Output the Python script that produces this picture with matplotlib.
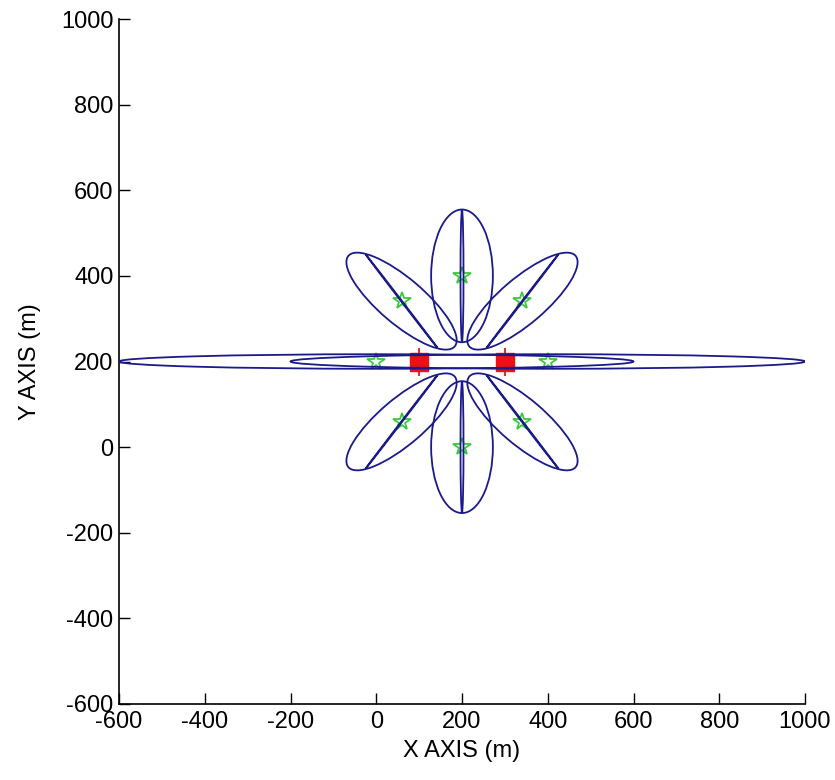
import matplotlib
matplotlib.use("Agg")
import matplotlib.pyplot as plt
from matplotlib.patches import Ellipse

plt.rcParams['font.family'] = ['Liberation Sans', 'DejaVu Sans']
plt.rcParams['axes.unicode_minus'] = False

# ---- data ----
target_x = [200, 59, 341, 0, 400, 59, 341, 200]
target_y = [400, 341, 341, 200, 200, 59, 59, 0]

# wide error ellipses (full axis lengths, orientation in degrees)
wide_len = [310, 326, 326, 1200, 1200, 326, 326, 308]
wide_wid = [144, 106, 106, 34, 34, 106, 106, 144]
wide_ang = [90, 139.5, 40.5, 0, 0, 220.5, 319.5, 90]

# narrow ellipses (non-horizontal targets only)
narrow_x = [200, 59, 341, 59, 341, 200]
narrow_y = [400, 341, 341, 59, 59, 0]
narrow_len = [308, 276, 276, 276, 276, 306]
narrow_wid = [7, 2, 2, 2, 2, 7]
narrow_ang = [90, 127.5, 52.5, 232.5, 307.5, 90]

station_x = [100, 300]
station_y = [200, 200]

xticks = [-600, -400, -200, 0, 200, 400, 600, 800, 1000]
yticks = [-600, -400, -200, 0, 200, 400, 600, 800, 1000]

NAVY = '#1a1a8a'

fig = plt.figure(figsize=(8.35, 7.8), dpi=100)
ax = fig.add_axes([119/835, 76/780, 686/835, 685/780])

# stations (red squares with vertical bar)
ax.plot(station_x, station_y, linestyle='none', marker='|', markersize=20,
        markeredgewidth=1.3, color='#e01818', zorder=1)
ax.plot(station_x, station_y, linestyle='none', marker='s', markersize=13,
        markerfacecolor='#ee1111', markeredgecolor='#ee1111', zorder=1)

# targets (green stars)
ax.plot(target_x, target_y, linestyle='none', marker='*', markersize=13,
        markerfacecolor='none', markeredgecolor='#3cc83c', markeredgewidth=1.3,
        zorder=2)

for x, y, w, h, a in zip(target_x, target_y, wide_len, wide_wid, wide_ang):
    ax.add_patch(Ellipse((x, y), w, h, angle=a, fill=False, edgecolor=NAVY,
                         linewidth=1.3, zorder=3))
for x, y, w, h, a in zip(narrow_x, narrow_y, narrow_len, narrow_wid, narrow_ang):
    ax.add_patch(Ellipse((x, y), w, h, angle=a, fill=False, edgecolor=NAVY,
                         linewidth=1.3, zorder=3))

ax.set_xlim(-600, 1000)
ax.set_ylim(-600, 1000)
ax.set_xticks(xticks)
ax.set_yticks(yticks)
ax.tick_params(direction='in', length=8, width=1, labelsize=17, pad=4,
               colors='black')
ax.tick_params(axis='x', pad=5)
for s in ['top', 'right']:
    ax.spines[s].set_visible(False)
for s in ['left', 'bottom']:
    ax.spines[s].set_linewidth(1.2)
ax.set_xlabel('X AXIS (m)', fontsize=17, labelpad=5)
ax.set_ylabel('Y AXIS (m)', fontsize=17, labelpad=14)

fig.savefig('out.png', dpi=100)
